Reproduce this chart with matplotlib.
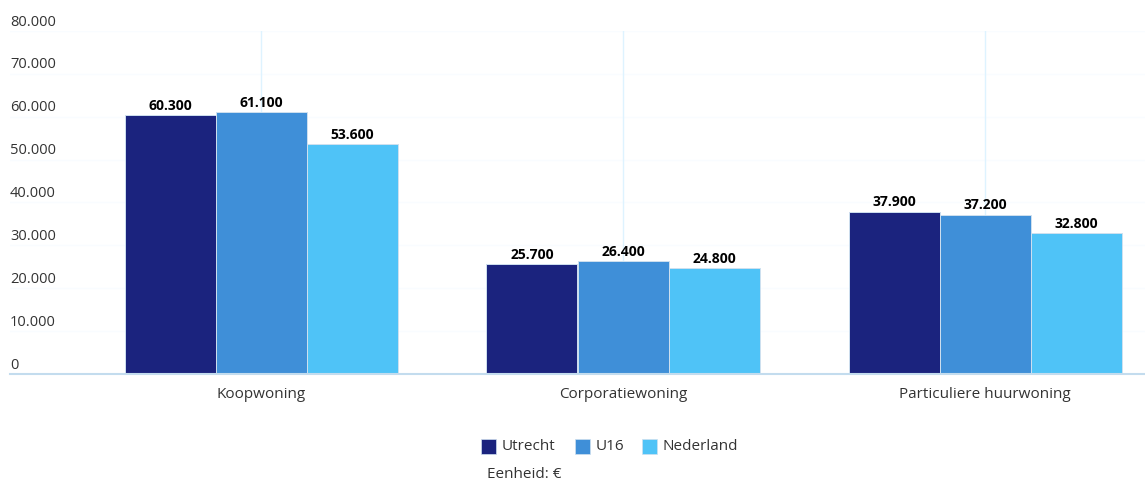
import matplotlib
matplotlib.use("Agg")
import matplotlib.pyplot as plt
from matplotlib.patches import Rectangle
import numpy as np

categories = ["Koopwoning", "Corporatiewoning", "Particuliere huurwoning"]
series_names = ["Utrecht", "U16", "Nederland"]
utrecht = [60300, 25700, 37900]
u16 = [61100, 26400, 37200]
nederland = [53600, 24800, 32800]
colors = ["#1b237e", "#3f8fd8", "#4fc3f7"]
yticks = [0, 10000, 20000, 30000, 40000, 50000, 60000, 70000, 80000]

W, H = 1145, 483
plt.rcParams['font.family'] = ['Open Sans', 'DejaVu Sans']
fig = plt.figure(figsize=(W / 100, H / 100), dpi=100)

def fx(px):
    return px / W

def fy(py):
    return 1 - py / H

ax_left, ax_right, ax_top, ax_bottom = 10, 1145, 31, 374
ax = fig.add_axes([fx(ax_left), fy(ax_bottom), fx(ax_right - ax_left), (ax_bottom - ax_top) / H])
cat_px = 362.0
x0 = (ax_left - 261) / cat_px
x1 = (ax_right - 261) / cat_px
ax.set_xlim(x0, x1)
ax.set_ylim(0, 80000)
for s in ax.spines.values():
    s.set_visible(False)
ax.set_xticks([])
ax.set_yticks([])

# very faint horizontal gridlines
for t in yticks[1:]:
    ax.axhline(t, color="#f9fcff", lw=1, zorder=0)
# vertical gridlines at category centers
xs = np.arange(len(categories))
for x in xs:
    ax.axvline(x, color="#def3ff", lw=1, zorder=0)
ax.axhline(0, color="#c3dcee", lw=1.5, zorder=3, clip_on=False)

bw = 91 / cat_px
data = [utrecht, u16, nederland]
for i, (vals, c) in enumerate(zip(data, colors)):
    pos = xs + (i - 1) * bw
    ax.bar(pos, vals, width=bw, color=c, edgecolor="#cfe0ef", linewidth=0.7, zorder=2)
    for p, v in zip(pos, vals):
        ax.annotate(f"{v:,}".replace(",", "."), (p, v), xytext=(0, 1.5), textcoords="offset points",
                    ha="center", va="bottom", fontsize=10, fontweight="bold", color="#000000")

# y tick labels above gridlines
for t in yticks:
    lab = f"{t:,}".replace(",", ".")
    ax.annotate(lab, (0, t), xycoords=("axes fraction", "data"), xytext=(0, 1),
                textcoords="offset points", ha="left", va="bottom", fontsize=10.5, color="#333333")

for x, c in zip(xs, categories):
    ax.annotate(c, (x, 0), xytext=(0, -9), textcoords="offset points", ha="center", va="top",
                fontsize=11, color="#333333", annotation_clip=False)

# legend
leg_x = [481, 575, 642]
for lx, name, c in zip(leg_x, series_names, colors):
    fig.patches.append(Rectangle((fx(lx), fy(454)), 15 / W, 15 / H, transform=fig.transFigure,
                                 facecolor=c, edgecolor="#cfe0ef", lw=0.5))
    fig.text(fx(lx + 21), fy(446), name, ha="left", va="center", fontsize=11, color="#333333")
fig.text(fx(487), fy(475), "Eenheid: €", ha="left", va="center", fontsize=11, color="#333333")

fig.savefig("out.png", dpi=100)
